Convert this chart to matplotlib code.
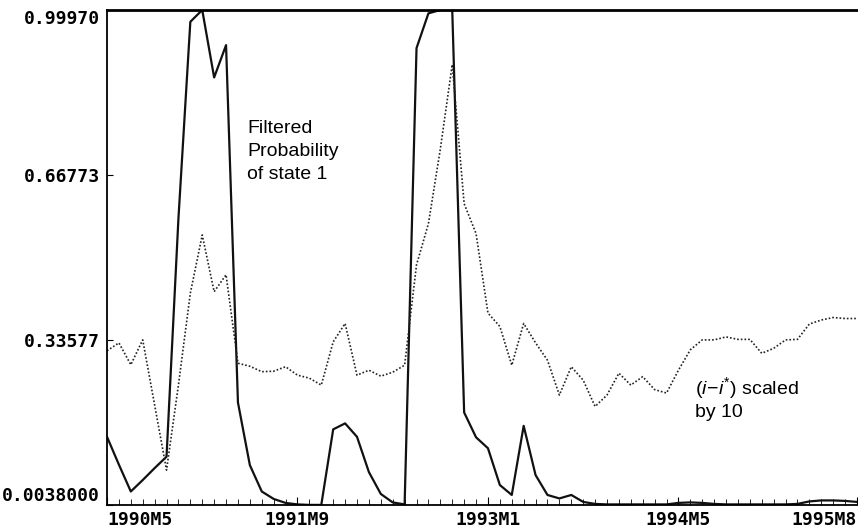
"""
Filtered probability of state 1 against the scaled interest differential, 1990M5-1995M8.
"""

import matplotlib
matplotlib.use("Agg")
import matplotlib.pyplot as plt
from matplotlib.ticker import MultipleLocator

# Monthly observations, 1990M5 ... 1995M8
filtered_prob = [
    0.141, 0.085, 0.031, 0.054, 0.078, 0.101, 0.580, 0.976, 0.9997, 0.864,
    0.929, 0.210, 0.084, 0.031, 0.016, 0.008, 0.005, 0.004, 0.004, 0.156,
    0.168, 0.141, 0.070, 0.026, 0.009, 0.005, 0.923, 0.993, 0.9997, 0.9997,
    0.190, 0.140, 0.118, 0.044, 0.024, 0.163, 0.064, 0.024, 0.017, 0.024,
    0.010, 0.006, 0.005, 0.005, 0.005, 0.005, 0.005, 0.005, 0.008, 0.009,
    0.008, 0.006, 0.005, 0.005, 0.005, 0.005, 0.005, 0.005, 0.006, 0.011,
    0.013, 0.013, 0.012, 0.010,
]
diff_scaled = [
    0.314, 0.330, 0.286, 0.336, 0.205, 0.074, 0.245, 0.430, 0.547, 0.433,
    0.467, 0.289, 0.283, 0.272, 0.273, 0.282, 0.265, 0.259, 0.245, 0.332,
    0.369, 0.265, 0.275, 0.263, 0.271, 0.285, 0.487, 0.570, 0.720, 0.890,
    0.610, 0.550, 0.390, 0.363, 0.285, 0.369, 0.330, 0.295, 0.225, 0.282,
    0.255, 0.202, 0.225, 0.269, 0.245, 0.262, 0.236, 0.229, 0.275, 0.316,
    0.336, 0.336, 0.342, 0.337, 0.337, 0.309, 0.319, 0.336, 0.337, 0.368,
    0.376, 0.381, 0.379, 0.379,
]

tick_months = [0, 16, 32, 48, 63]
tick_labels = ["1990M5", "1991M9", "1993M1", "1994M5", "1995M8"]
y_ticks = [0.0038, 0.33577, 0.66773, 0.9997]
y_tick_labels = ["0.0038000", "0.33577", "0.66773", "0.99970"]


def main():
    plt.rcParams["mathtext.fontset"] = "custom"
    plt.rcParams["mathtext.rm"] = "Liberation Sans"
    plt.rcParams["mathtext.it"] = "Liberation Sans:italic"

    fig = plt.figure(figsize=(8.58, 5.28), dpi=100)
    ax = fig.add_axes([107 / 858, 23 / 528, 750 / 858, 495 / 528])

    months = range(len(filtered_prob))
    ax.plot(months, filtered_prob, color="#111111", linewidth=1.6)
    ax.plot(months, diff_scaled, color="#222222", linewidth=1.2, linestyle=(0, (1, 1.2)))

    ax.set_xlim(0, len(filtered_prob) - 1)
    ax.set_ylim(y_ticks[0], y_ticks[-1])

    # Axis ticks
    ax.set_xticks(tick_months)
    ax.set_xticklabels(tick_labels)
    ax.xaxis.set_minor_locator(MultipleLocator(1))
    ax.set_yticks(y_ticks)
    ax.set_yticklabels(y_tick_labels)

    ax.tick_params(axis="both", which="both", direction="in", color="black")
    ax.tick_params(axis="x", which="major", length=6, pad=4)
    ax.tick_params(axis="x", which="minor", length=4)
    ax.tick_params(axis="y", which="major", length=4, pad=5)

    for lab in ax.get_xticklabels() + ax.get_yticklabels():
        lab.set_fontfamily("DejaVu Sans Mono")
        lab.set_fontweight("bold")
        lab.set_fontsize(13)

    xl = ax.get_xticklabels()
    xl[0].set_ha("left")
    xl[-1].set_ha("right")
    yl = ax.get_yticklabels()
    yl[0].set_va("bottom")
    yl[-1].set_va("top")

    # Frame
    ax.spines["right"].set_visible(False)
    ax.spines["top"].set_linewidth(2)
    for side in ["left", "bottom"]:
        ax.spines[side].set_linewidth(1.3)

    # Annotations
    ax.text(0.187, 0.778, "Filtered\nProbability\nof state 1", transform=ax.transAxes,
            fontsize=14, family="Liberation Sans", va="top", ha="left", linespacing=1.45)
    ax.text(0.784, 0.262, r"$(i\!-\!i^{*})$ scaled" + "\nby 10", transform=ax.transAxes,
            fontsize=14, family="Liberation Sans", va="top", ha="left", linespacing=1.25)

    plt.savefig("out.png", dpi=100)


if __name__ == "__main__":
    main()
